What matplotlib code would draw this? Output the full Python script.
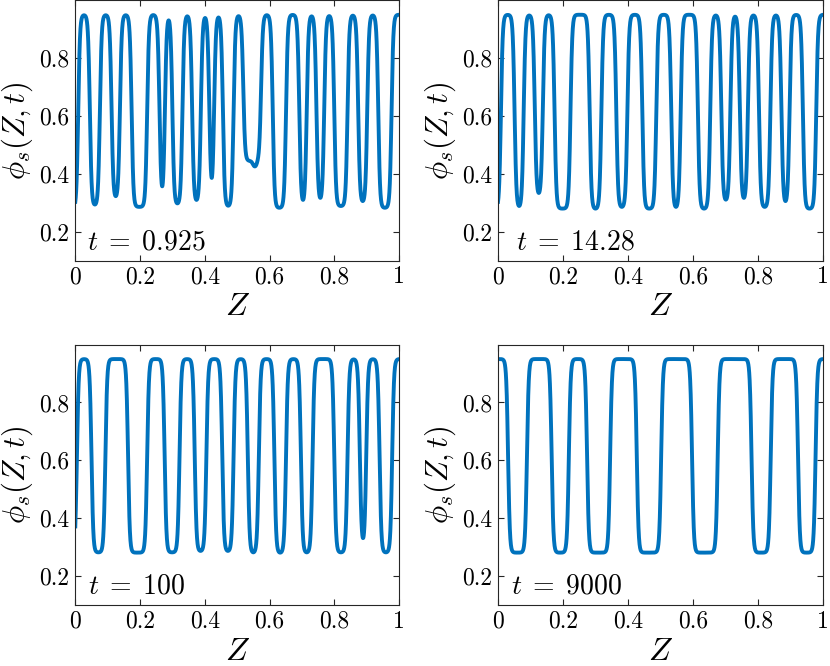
import numpy as np
import matplotlib
matplotlib.use("Agg")
import matplotlib.pyplot as plt

plt.rcParams["mathtext.fontset"] = "cm"
plt.rcParams["font.family"] = "serif"
plt.rcParams["font.serif"] = ["cmr10", "DejaVu Serif"]
plt.rcParams["axes.formatter.use_mathtext"] = True

# plateau / bottom levels of the profile
HI = 0.95
LO = 0.28

# troughs: Z where the curve crosses mid level going down / up, and the trough minimum
t_labels = ["0.925", "14.28", "100", "9000"]

down_0925 = [-0.030, 0.045, 0.112, 0.174, 0.260, 0.300, 0.361, 0.414, 0.456, 0.519, 0.549, 0.610, 0.692, 0.745, 0.800, 0.874, 0.936]
up_0925 = [0.009, 0.076, 0.138, 0.222, 0.277, 0.331, 0.388, 0.429, 0.489, 0.574, 0.561, 0.651, 0.715, 0.769, 0.841, 0.902, 0.977]
min_0925 = [0.28, 0.294, 0.323, 0.286, 0.357, 0.298, 0.310, 0.386, 0.290, 0.445, 0.87, 0.283, 0.310, 0.317, 0.289, 0.306, 0.283]

down_1428 = [-0.030, 0.051, 0.113, 0.174, 0.282, 0.364, 0.444, 0.533, 0.615, 0.687, 0.744, 0.803, 0.872, 0.938]
up_1428 = [0.009, 0.079, 0.138, 0.223, 0.318, 0.398, 0.487, 0.562, 0.653, 0.715, 0.769, 0.838, 0.897, 0.979]
min_1428 = [0.28, 0.289, 0.334, 0.28, 0.28, 0.286, 0.28, 0.286, 0.28, 0.311, 0.317, 0.286, 0.306, 0.28]

down_100 = [-0.030, 0.050, 0.163, 0.276, 0.369, 0.454, 0.533, 0.615, 0.697, 0.800, 0.879, 0.940]
up_100 = [0.005, 0.093, 0.222, 0.322, 0.405, 0.489, 0.567, 0.651, 0.733, 0.841, 0.899, 0.979]
min_100 = [0.28, 0.282, 0.281, 0.282, 0.287, 0.287, 0.282, 0.281, 0.282, 0.282, 0.331, 0.282]

down_9000 = [0.031, 0.165, 0.274, 0.427, 0.597, 0.780, 0.923]
up_9000 = [0.089, 0.218, 0.345, 0.502, 0.676, 0.839, 0.977]
min_9000 = [0.281, 0.281, 0.281, 0.281, 0.281, 0.281, 0.281]

panels = [
    (down_0925, up_0925, min_0925),
    (down_1428, up_1428, min_1428),
    (down_100, up_100, min_100),
    (down_9000, up_9000, min_9000),
]


def profile(z, downs, ups, mins, w=0.0055):
    phi = np.ones_like(z)
    for d, u, m in zip(downs, ups, mins):
        dip = 0.5 * (np.tanh((z - d) / w) - np.tanh((z - u) / w))
        dip = dip / np.tanh((u - d) / (2 * w))
        depth = (HI - m) / (HI - LO)
        phi *= 1 - depth * dip
    return LO + (HI - LO) * phi


fig = plt.figure(figsize=(8.3, 6.66), dpi=100)
rects = [
    [0.0907, 0.6086, 0.390, 0.391],
    [0.6000, 0.6086, 0.3916, 0.391],
    [0.0907, 0.0916, 0.390, 0.391],
    [0.6000, 0.0916, 0.3916, 0.391],
]
text_x = [0.035, 0.055, 0.040, 0.040]

z = np.linspace(0, 1, 3000)
for i, (downs, ups, mins) in enumerate(panels):
    ax = fig.add_axes(rects[i])
    ax.plot(z, profile(z, downs, ups, mins), color="#0072BD", lw=2.8)
    ax.set_xlim(0, 1)
    ax.set_ylim(0.1, 1.0)
    ax.set_xticks([0, 0.2, 0.4, 0.6, 0.8, 1], labels=["0", "0.2", "0.4", "0.6", "0.8", "1"])
    ax.set_yticks([0.2, 0.4, 0.6, 0.8], labels=["0.2", "0.4", "0.6", "0.8"])
    ax.tick_params(direction="in", top=True, right=True, length=4, width=0.8,
                   color="#262626", labelsize=17, pad=4)
    for s in ax.spines.values():
        s.set_color("#262626")
        s.set_linewidth(0.8)
    ax.set_xlabel(r"$Z$", fontsize=23, labelpad=4)
    ax.set_ylabel(r"$\phi_s(Z,t)$", fontsize=22, labelpad=3)
    ax.text(text_x[i], 0.165, r"$t\;=\;" + t_labels[i] + "$", fontsize=20, va="center")

fig.savefig("out.png", dpi=100)
